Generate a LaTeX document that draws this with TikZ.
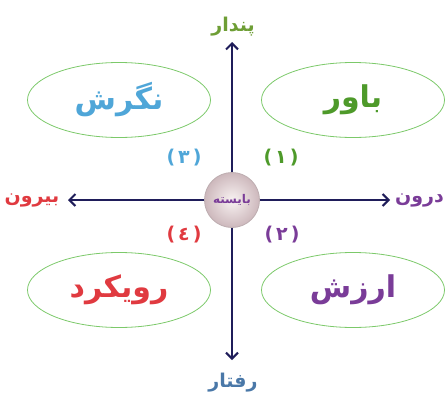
\documentclass[tikz,border=0pt]{standalone}
\usepackage{fontspec}
\usetikzlibrary{arrows.meta,shapes.geometric}
\TeXXeTstate=1
\newfontfamily\arabicfont[Script=Arabic]{DejaVu Sans}
\newfontfamily\dejalat{DejaVu Sans}
\newcommand{\pnum}[1]{{\dejalat(}\kern3pt{\arabicfont #1}\kern3pt{\dejalat)}}
\definecolor{navy}{HTML}{1F1D5A}
\definecolor{ggreen}{HTML}{4E9A2A}
\definecolor{olive}{HTML}{6E9E35}
\definecolor{lblue}{HTML}{4FA6D8}
\definecolor{rred}{HTML}{E03A40}
\definecolor{ppurple}{HTML}{7A3C98}
\definecolor{sblue}{HTML}{4A78A8}
\definecolor{ellg}{HTML}{7CC96A}
\definecolor{ballin}{HTML}{F8F2F2}
\definecolor{ballout}{HTML}{CDB8BC}
\tikzset{
  oval/.style={ellipse, draw=ellg, line width=0.8pt, minimum width=183pt, minimum height=75pt, inner sep=0pt, font=\arabicfont\bfseries\fontsize{30}{32}\selectfont},
  axis/.style={draw=navy, line width=2pt, -{Straight Barb[length=6pt,width=12pt,line width=2pt]}},
  axlabel/.style={font=\arabicfont\bfseries\fontsize{19}{21}\selectfont, inner sep=0pt},
  numlabel/.style={font=\bfseries\fontsize{19}{21}\selectfont, inner sep=0pt},
}
\begin{document}
\begin{tikzpicture}[x=1pt,y=-1pt]
\useasboundingbox (0,0) rectangle (445,399);
\coordinate (top) at (232,42);
\coordinate (bot) at (232,360);
\coordinate (lft) at (68,200);
\coordinate (rgt) at (390,200);
\node[circle, draw=ballout!80!gray, line width=0.8pt, inner color=ballin, outer color=ballout, minimum size=55pt, inner sep=0pt, font=\arabicfont\bfseries\fontsize{12}{13}\selectfont, text=ppurple] (c) at (232,200) {\beginR بایسته\endR};
\draw[axis] (c.north) -- (top);
\draw[axis] (c.south) -- (bot);
\draw[axis] (c.west) -- (lft);
\draw[axis] (c.east) -- (rgt);
\node[axlabel, text=olive] (tl) at (233,27) {\beginR پندار\endR};
\node[axlabel, text=sblue] (bl) at (233,383) {\beginR رفتار\endR};
\node[axlabel, text=rred] (ll) at (32,200) {\beginR بیرون\endR};
\node[axlabel, text=ppurple, anchor=east] (rl) at (444,200) {\beginR درون\endR};
\node[oval, text=lblue] (e1) at (119,100) {\beginR نگرش\endR};
\node[oval, text=ggreen] (e2) at (353,100) {\beginR باور\endR};
\node[oval, text=rred] (e3) at (119,290) {\beginR رویکرد\endR};
\node[oval, text=ppurple] (e4) at (353,290) {\beginR ارزش\endR};
\node[numlabel, text=lblue] (n3) at (184,158) {\pnum{٣}};
\node[numlabel, text=ggreen] (n1) at (281,158) {\pnum{١}};
\node[numlabel, text=rred] (n4) at (184,235) {\pnum{٤}};
\node[numlabel, text=ppurple] (n2) at (282,235) {\pnum{٢}};
\end{tikzpicture}
\end{document}
